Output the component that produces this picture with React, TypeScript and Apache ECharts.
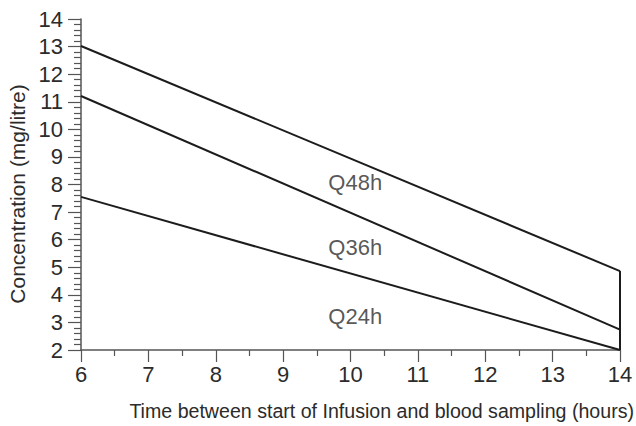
import React, { useEffect, useRef } from "react";
import * as echarts from "echarts";

const xTicks = [6, 7, 8, 9, 10, 11, 12, 13, 14];
const yTicks = [2, 3, 4, 5, 6, 7, 8, 9, 10, 11, 12, 13, 14];
const q48 = [[6, 13.02], [14, 4.86]];
const q36 = [[6, 11.21], [14, 2.74]];
const q24 = [[6, 7.55], [14, 2.0]];
const endLine = [[14, 2.0], [14, 4.86]];
const labels = [
  { name: "Q48h", value: [10.07, 8.09] },
  { name: "Q36h", value: [10.07, 5.73] },
  { name: "Q24h", value: [10.07, 3.2] },
];
const xTitle = "Time between start of Infusion and blood sampling (hours)";
const yTitle = "Concentration (mg/litre)";

const FONT = "Liberation Sans";
const TXT = "#2b2b2b";
const AX = "#555";

export default function App() {
  const ref = useRef<HTMLDivElement>(null);
  useEffect(() => {
    const chart = echarts.init(ref.current!, null, { renderer: "svg" });
    const lineSeries = (name: string, data: number[][]) => ({
      type: "line",
      name,
      data,
      symbol: "none",
      lineStyle: { color: "#1c1c1c", width: 2 },
      silent: true,
    });
    chart.setOption({
      animation: false,
      grid: { left: 81, right: 16, top: 19, bottom: 76 },
      xAxis: {
        type: "value",
        min: xTicks[0],
        max: xTicks[xTicks.length - 1],
        interval: 1,
        axisLine: { lineStyle: { color: AX, width: 1.5 } },
        axisTick: { length: 12, lineStyle: { color: AX, width: 1.2 } },
        minorTick: { show: true, splitNumber: 2, length: 6, lineStyle: { color: AX, width: 1.2 } },
        splitLine: { show: false },
        axisLabel: { color: TXT, fontSize: 22, fontFamily: FONT, margin: 13 },
      },
      yAxis: {
        type: "value",
        min: yTicks[0],
        max: yTicks[yTicks.length - 1],
        interval: 1,
        axisLine: { show: true, lineStyle: { color: AX, width: 1.5 } },
        axisTick: { show: true, length: 13, lineStyle: { color: AX, width: 1.2 } },
        minorTick: { show: true, splitNumber: 5, length: 7, lineStyle: { color: AX, width: 1.2 } },
        splitLine: { show: false },
        axisLabel: { color: TXT, fontSize: 22, fontFamily: FONT, margin: 18 },
      },
      graphic: [
        {
          type: "text",
          x: 634,
          y: 411,
          style: {
            text: xTitle,
            fill: TXT,
            font: `19.6px "${FONT}"`,
            align: "right",
            verticalAlign: "middle",
          },
        },
        {
          type: "text",
          x: 17,
          y: 194,
          rotation: Math.PI / 2,
          style: {
            text: yTitle,
            fill: TXT,
            font: `21px "${FONT}"`,
            align: "center",
            verticalAlign: "middle",
          },
        },
      ],
      series: [
        lineSeries("Q48h", q48),
        lineSeries("Q36h", q36),
        lineSeries("Q24h", q24),
        lineSeries("end", endLine),
        {
          type: "scatter",
          data: labels,
          symbolSize: 1,
          itemStyle: { color: "transparent" },
          silent: true,
          label: {
            show: true,
            position: "inside",
            formatter: (p: any) => p.name,
            color: TXT,
            fontSize: 22,
            fontFamily: FONT,
          },
        },
      ],
    });
    return () => chart.dispose();
  }, []);
  return (
    <div
      ref={ref}
      style={{ position: "fixed", left: 0, top: 0, width: 636, height: 426, background: "#fff" }}
    />
  );
}
